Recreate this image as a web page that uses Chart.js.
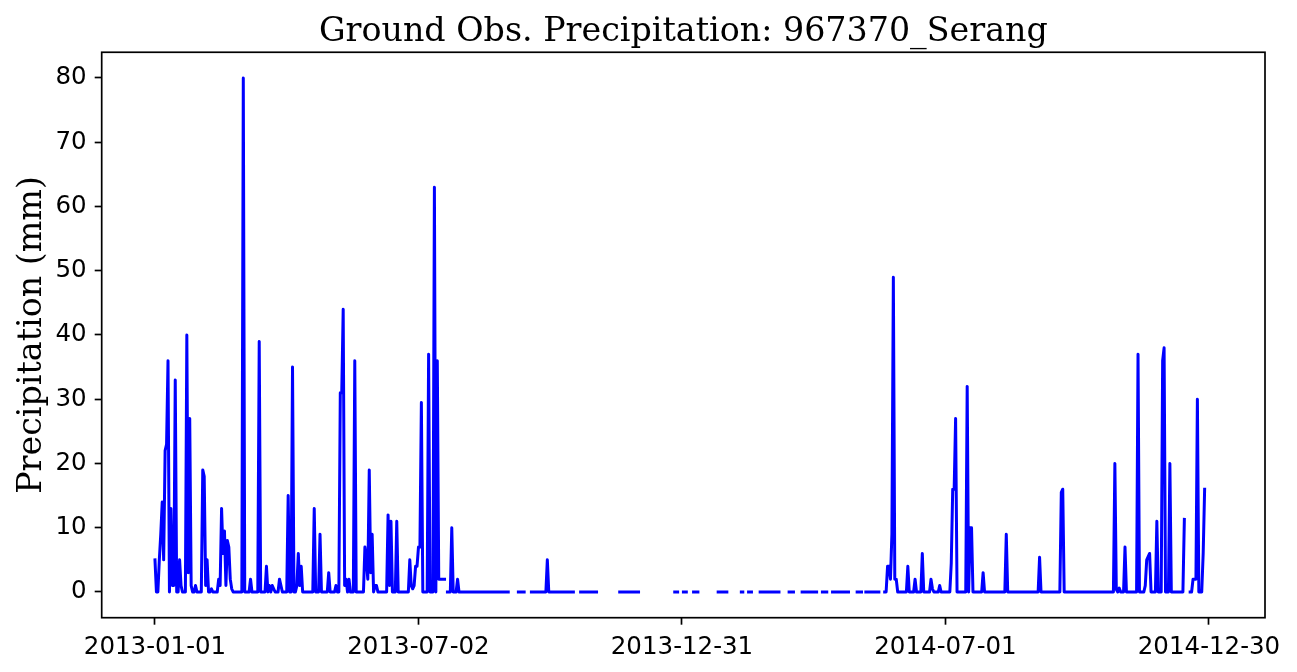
<!DOCTYPE html>
<html>
<head>
<meta charset="utf-8">
<script src="https://cdn.jsdelivr.net/npm/chart.js@4.4.1/dist/chart.umd.min.js"></script>
<style>
  html, body { margin: 0; padding: 0; background: #fff; }
  #wrap { width: 1297px; height: 672px; }
</style>
</head>
<body>
<div id="wrap"><canvas id="myChart" width="1297" height="672"></canvas></div>
<script>
// daily precipitation (mm), one array per month, null = missing day
const jan13 = [5,0,0,5,9,14,5,22,23,36,0,13,1,1,33,0,0,5,1,0,0,0,40,3,27,1,0,0,1,0,0];
const feb13 = [0,0,19,18,1,5,0,0,0.5,0,0,0,0,2,1,13,6,9.5,1,8,7,2,0.5,0,0,0,0,0];
const mar13 = [0,0,80,0,0,0,0,2,0,0,0,0,0,39,0,0,0,0,4,0,1,0,1,0.5,0,0,0,2,1,0,0];
const apr13 = [0,0,15,0,0,35,0,0,1,6,1,4,0,0,0,0,0,0,0,0,13,0,0,0,9,0,0,0,0,0];
const may13 = [3,0,0,0,0,1,0,0,31,31,44,1,2,0,2,0,0,0,36,0,0,0,0,0,0,7,5,2,19,3,9];
const jun13 = [0,1,1,0,0,0,0,0,0,0,12,1,11,0,0,0,11,0,0,0,0,0,0,0,0,5,1,0.5,1,4];
const jul13 = [4,7,7,29.5,0,0,0,0,37,0,0,0,63,0,36,2,2,2,2,2,null,0,0,0,10,0,0,0,2,0,0];
const aug13 = [0,0,0,0,0,0,0,0,0,null,0,0,0,0,0,0,null,0,0,0,0,0,0,0,0,0,0,0,0,0,0];
const sep13 = [0,0,null,null,null,null,null,null,0,0,0,0,0,null,null,null,null,0,0,0,0,0,0,0,0,0,0,0,5,0];
const oct13 = [0,0,0,0,0,0,0,0,null,0,0,0,0,0,0,0,0,null,null,null,null,0,0,0,0,0,null,0,0,0,0];
const nov13 = [0,0,null,null,null,null,null,null,null,null,null,null,null,null,null,null,null,0,0,0,0,0,0,null,0,0,0,0,0,0];
const dec13 = [0,null,null,null,null,null,null,null,null,null,null,null,null,null,null,null,null,null,null,null,null,null,null,null,null,0,0,0,null,null,null];
const jan14 = [0,0,0,null,null,null,null,0,0,0,0,null,null,null,null,null,null,null,null,null,null,null,null,null,0,0,0,null,0,0,0];
const feb14 = [null,null,null,null,null,null,null,null,null,0,0,null,null,null,0,0,0,null,null,null,null,null,0,0,0,null,0,0];
const mar14 = [0,0,0,null,0,0,0,0,null,null,null,null,null,null,0,0,0,0,null,null,null,null,null,0,0,0,0,0,0,0,0];
const apr14 = [0,0,0,null,null,null,0,0,0,0,null,null,null,0,0,0,0,0,0,0,0,0,0,0,0,null,null,null,null,null];
const may14 = [0,0,0,0,null,null,0,0,0,0,null,0,0,0,0,0,null,null,null,0,0,4,4,2,9,49,2,2,0,0,0];
const jun14 = [0,0,0,0,4,0,0,0,0,2,0,0,0,0,6,0,0,0,0,0,2,0.5,0,0,0,0,1,0,0,0];
const jul14 = [0,0,0,0,4.5,16,16,27,0,0,0,0,0,0,0,32,0,10,10,0,0,0,0,0,0,0,3,0,0,0,0];
const aug14 = [0,0,0,0,0,0,0,0,0,0,0,9,0,0,0,0,0,0,0,0,0,0,0,0,0,0,0,0,0,0,0];
const sep14 = [0,0,0,5.4,0,0,0,0,0,0,0,0,0,0,0,0,0,0,15.5,16,0,0,0,0,0,0,0,0,0,0];
const oct14 = [0,0,0,0,0,0,0,0,0,0,0,0,0,0,0,0,0,0,0,0,0,0,0,0,0,20,0.4,0,0.6,0,0];
const nov14 = [0,7,0,0,0,0,0,0,0,0,37,0,0,0,0,1,5,5.5,6,0,0,0,0,11,0,0,0,36,38,0];
const dec14 = [0,0,20,0,0,0,0,0,0,0,0,0,11.3,null,null,null,0,0,2,2,2,30,0,0,0,6,16,null,null,null,null];

// x ticks: day number counted from 2013-01-01
const tickDays = [0, 182, 364, 546, 728];
const tickLabels = ['2013-01-01', '2013-07-02', '2013-12-31', '2014-07-01', '2014-12-30'];
const yTicks = [0, 10, 20, 30, 40, 50, 60, 70, 80];

const rain = [].concat(jan13, feb13, mar13, apr13, may13, jun13, jul13, aug13, sep13, oct13, nov13, dec13,
                       jan14, feb14, mar14, apr14, may14, jun14, jul14, aug14, sep14, oct14, nov14, dec14);
const points = rain.map((v, i) => ({ x: i, y: v }));

const tickFont = { family: 'DejaVu Sans', size: 24.5 };
const serif = { family: 'DejaVu Serif', size: 33.3, weight: 'normal' };

const framePlugin = {
  id: 'frame',
  afterDatasetsDraw(chart) {
    const { ctx, chartArea: a } = chart;
    ctx.save();
    ctx.strokeStyle = '#000';
    ctx.lineWidth = 1.7;
    ctx.strokeRect(a.left, a.top, a.right - a.left, a.bottom - a.top);
    ctx.restore();
  }
};

const ctx = document.getElementById('myChart');
new Chart(ctx, {
  type: 'line',
  data: {
    datasets: [{
      data: points,
      borderColor: '#0000ff',
      borderWidth: 3,
      pointRadius: 0,
      tension: 0,
      spanGaps: false,
      borderCapStyle: 'square',
      borderJoinStyle: 'round'
    }]
  },
  options: {
    responsive: false,
    animation: false,
    devicePixelRatio: 1,
    layout: { padding: { left: 0, right: 32, top: 0, bottom: 0 } },
    plugins: {
      legend: { display: false },
      tooltip: { enabled: false },
      title: {
        display: true,
        text: 'Ground Obs. Precipitation: 967370_Serang',
        font: serif,
        color: '#000',
        fullSize: false,
        padding: { top: 12, bottom: 0.3 }
      }
    },
    scales: {
      x: {
        type: 'linear',
        min: -36.8,
        max: 766.7,
        afterBuildTicks: s => { s.ticks = tickDays.map(v => ({ value: v })); },
        afterFit: s => { s.height = 54.3; },
        ticks: {
          callback: (v, i) => tickLabels[i],
          font: tickFont,
          color: '#000',
          padding: 8,
          maxRotation: 0,
          autoSkip: false
        },
        grid: { drawOnChartArea: false, drawTicks: true, tickLength: 7, tickWidth: 1.7, tickColor: '#000' },
        border: { display: false }
      },
      y: {
        min: -4,
        max: 84,
        afterBuildTicks: s => { s.ticks = yTicks.map(v => ({ value: v })); },
        afterFit: s => { s.width = 101.7; },
        ticks: { font: tickFont, color: '#000', padding: 8 },
        grid: { drawOnChartArea: false, drawTicks: true, tickLength: 7, tickWidth: 1.7, tickColor: '#000' },
        border: { display: false },
        title: {
          display: true,
          text: 'Precipitation (mm)',
          font: serif,
          color: '#000',
          padding: { top: 12, bottom: 0 }
        }
      }
    }
  },
  plugins: [framePlugin]
});
</script>
</body>
</html>
